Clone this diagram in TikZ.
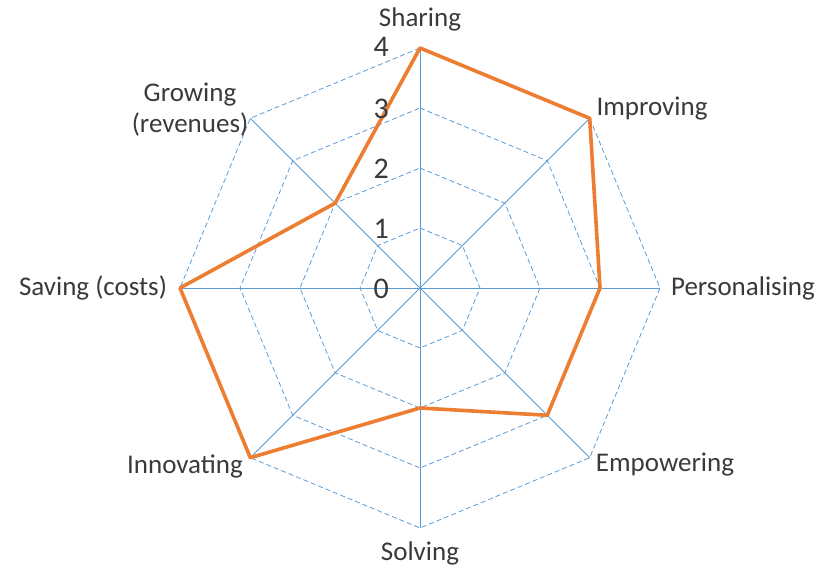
\documentclass[tikz,border=0pt]{standalone}
\usepackage{fontspec}
\setmainfont{Carlito}
\usetikzlibrary{calc}
\definecolor{axisblue}{HTML}{5B9BD5}
\definecolor{serorange}{HTML}{ED7D31}
\definecolor{txt}{HTML}{3A3A3A}
\begin{document}
\begin{tikzpicture}[x=1pt,y=1pt,
  axisline/.style={axisblue,line width=0.8pt},
  gridline/.style={axisblue,line width=0.8pt,dash pattern=on 5pt off 3pt},
  series/.style={serorange,line width=3.6pt,line join=round},
  catlabel/.style={text=txt,font=\fontsize{27}{31}\selectfont,inner sep=0pt,align=center},
  ticklabel/.style={text=txt,font=\fontsize{30}{32}\selectfont,inner sep=0pt,anchor=east}]
\useasboundingbox (0,0) rectangle (822,569);
\coordinate (C) at (420,281);
% grid rings
\foreach \r in {1,2,3,4}{
  \draw[gridline] ($(C)+(90:\r*60)$) \foreach \k in {1,...,7}{ -- ($(C)+(90-45*\k:\r*60)$)} -- cycle;
}
% axes
\foreach \k in {0,...,7}{
  \coordinate (A\k) at ($(C)+(90-45*\k:240)$);
  \draw[axisline] (C) -- (A\k);
}
% series
\coordinate (P0) at ($(C)+(90:240)$);
\coordinate (P1) at ($(C)+(45:240)$);
\coordinate (P2) at ($(C)+(0:180)$);
\coordinate (P3) at ($(C)+(-45:180)$);
\coordinate (P4) at ($(C)+(-90:120)$);
\coordinate (P5) at ($(C)+(-135:240)$);
\coordinate (P6) at ($(C)+(180:240)$);
\coordinate (P7) at ($(C)+(135:120)$);
\draw[series] (P0) -- (P1) -- (P2) -- (P3) -- (P4) -- (P5) -- (P6) -- (P7) -- cycle;
% tick labels
\node[ticklabel] (t4) at (389,522) {4};
\node[ticklabel] (t3) at (389,460) {3};
\node[ticklabel] (t2) at (389,400) {2};
\node[ticklabel] (t1) at (389,340) {1};
\node[ticklabel] (t0) at (389,280) {0};
% category labels
\node[catlabel] (l0) at (420,550) {Sharing};
\node[catlabel] (l1) at (652,460) {Improving};
\node[catlabel] (l2) at (743,281) {Personalising};
\node[catlabel] (l3) at (665,104) {Empowering};
\node[catlabel] (l4) at (420,16) {Solving};
\node[catlabel] (l5) at (185,103) {Innovating};
\node[catlabel] (l6) at (93,281) {Saving (costs)};
\node[catlabel] (l7) at (190,459) {Growing\\(revenues)};
\end{tikzpicture}
\end{document}
